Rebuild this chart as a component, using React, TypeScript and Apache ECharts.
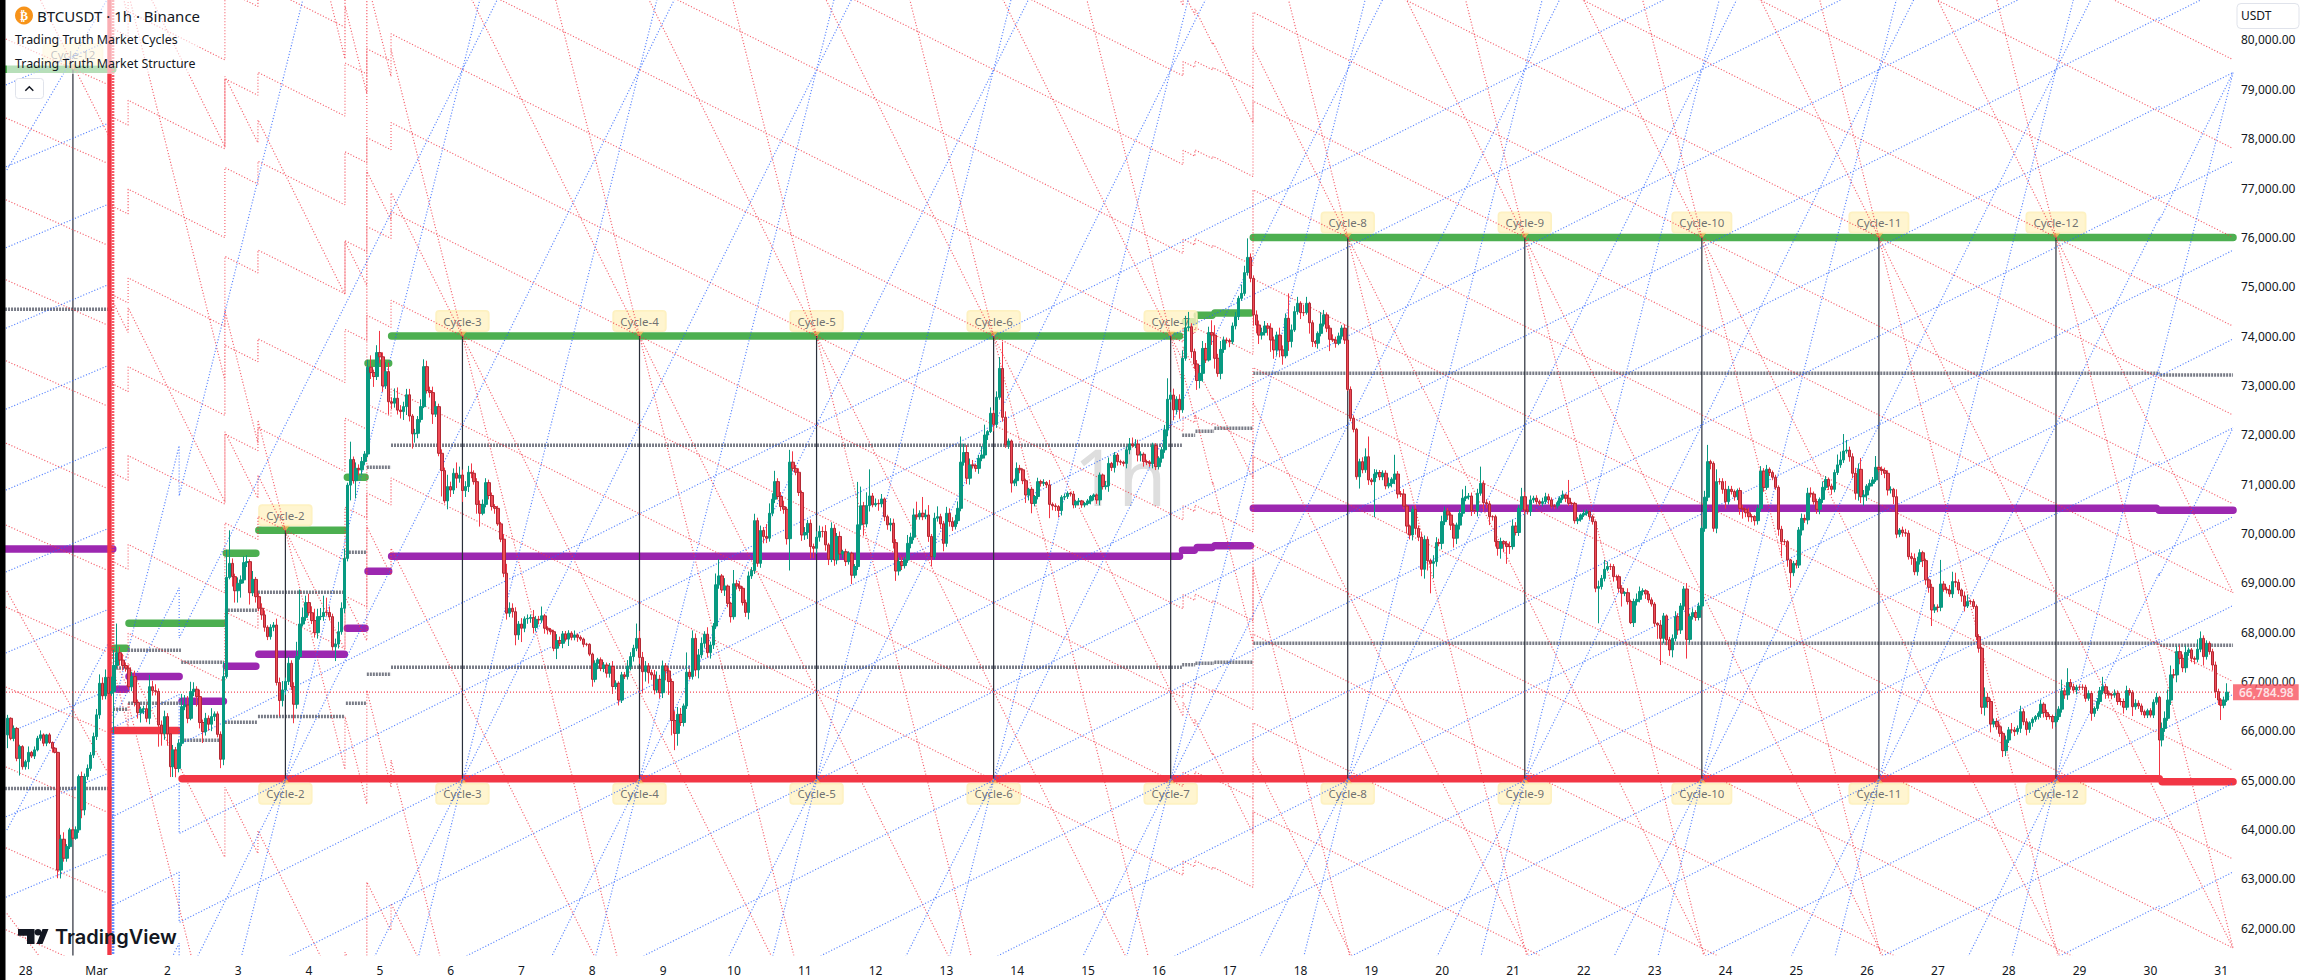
import React, { FC, useEffect, useRef } from "react";
import * as echarts from "echarts";

// hours counted from 28 Feb 00:00, first candle is hour -6
const firstHour = -6;
const firstOpen = 65920;
const closePrices = [
  66255,65850,66050,65445,65680,65275,
  65375,65565,65490,65615,65850,65920,65750,65920,65765,65650,
  65565,63180,63805,63420,63655,63995,63825,63995,65075,64400,
  65075,65240,65510,65885,66325,66965,66710,67085,66760,66800,
  67325,67585,67435,67325,67270,66895,67100,66575,66370,66440,
  66450,66255,66895,66815,66800,66120,65950,66290,65940,65275,
  65615,65240,65750,66490,66525,66255,66795,66845,66695,66170,
  65985,66255,66135,66290,66345,65930,65425,67100,69110,69395,
  69125,68840,68990,69060,69410,69430,68800,69070,68720,68485,
  68350,68100,67910,68100,68145,66980,66615,66830,67000,67370,
  66895,66540,67505,68165,68300,68600,68395,68235,67990,68315,
  68320,68400,68400,68315,67705,67760,68010,68485,69495,70980,
  71500,71070,71320,71290,71460,71610,73370,73260,73180,73665,
  73580,72990,73280,72670,72640,72740,72500,72470,72570,72810,
  72380,72020,72030,72310,72570,73380,72895,72855,72420,72570,
  71625,71275,70660,70950,70880,71220,71120,71185,70870,70950,
  71240,71220,71050,70590,70410,70590,71030,70770,70545,70510,
  70195,69885,69195,68385,68485,68415,67945,68165,68080,68270,
  68280,68300,68095,68260,68250,68330,68080,68045,68010,67675,
  67830,67775,67965,67860,67980,67895,67945,67895,67860,67755,
  67755,67555,67045,67370,67440,67270,67335,67170,67305,66900,
  66965,66625,67135,67100,67305,67505,67675,67875,67490,67200,
  67315,67180,67135,66830,67045,66775,67315,67215,67000,66210,
  65950,66335,66170,66505,67190,67100,67875,67235,67540,67775,
  67960,67585,67740,68125,68960,69140,68855,68935,68585,68315,
  68980,68935,68890,68600,68400,69140,69250,70260,69395,70060,
  69940,69905,70410,70695,71050,70750,70545,70490,69895,71445,
  71320,71240,70830,69970,70020,70205,69735,69700,69925,70040,
  70040,69770,69480,70105,69465,69940,69585,69630,69430,69600,
  69155,69330,70175,70560,70195,70565,70760,70580,70610,70600,
  70700,70340,70175,70210,69815,69240,69430,69350,69465,69800,
  69925,70375,70340,70410,70340,70375,69940,69530,70310,70340,
  70195,69800,70410,70240,70140,70260,70510,71445,71640,71120,
  71390,71375,71320,71525,71590,71995,72065,72435,72210,72760,
  73345,72355,71795,71875,71020,71070,71320,71290,71070,70780,
  70895,70610,70750,71050,71020,71030,70985,70590,70560,70545,
  70465,70735,70750,70815,70800,70580,70645,70660,70580,70610,
  70660,70750,70780,70680,71185,70950,70965,71420,71335,71590,
  71455,71445,71420,71695,71815,71780,71810,71590,71605,71455,
  71445,71420,71780,71355,71525,71695,72100,72720,72805,72505,
  72720,72505,73550,74170,74190,73685,73435,73100,73245,73750,
  73515,74070,74020,73550,73245,73730,73920,73910,73885,74205,
  74395,74765,74865,75285,75595,75170,74430,74225,74020,74070,
  74205,74160,73920,73720,74020,73720,73600,74360,73890,74125,
  74495,74665,74475,74475,74665,74270,73890,73855,74055,74245,
  74430,74160,73935,73920,73855,74000,74160,73920,72920,72335,
  72110,71150,71455,71290,71555,71085,71050,71205,71235,71150,
  71220,70965,71015,71100,71205,70800,70800,70555,70150,69970,
  70490,70105,69925,69275,69880,69450,69395,69430,69815,69800,
  70240,70455,70375,70170,69905,70170,70410,70715,70745,70760,
  70465,70465,70815,71015,70625,70600,70340,70340,69835,69700,
  69835,69790,69735,69735,70150,70020,70510,70745,70475,70445,
  70680,70715,70645,70610,70645,70745,70680,70555,70555,70625,
  70715,70780,70715,70610,70610,70260,70290,70375,70410,70445,
  70340,70240,68890,68925,69090,69275,69330,69330,69125,69125,
  68890,68790,68800,68620,68195,68620,68665,68825,68840,68775,
  68655,68570,68180,68145,67875,68330,67845,67640,67875,68315,
  68045,68530,68875,67855,68315,68395,68300,68530,70105,70735,
  71455,71420,70105,71050,71050,70895,70645,70895,70850,70745,
  70870,70510,70490,70420,70340,70340,70260,70510,71265,70935,
  71300,71235,71140,70935,70085,69835,69835,69465,69205,69395,
  69360,70070,70305,70275,70815,70800,70645,70490,70690,70935,
  71095,70960,70895,71235,71390,71490,71670,71690,71555,71220,
  70815,71300,70745,70780,70960,71015,71085,71340,71300,71275,
  71220,70880,70895,70745,69985,70070,70015,70005,69530,69495,
  69225,69430,69610,69450,69060,68910,68450,68505,68505,68975,
  68870,68855,68775,69025,69010,68855,68735,68530,68620,68620,
  68520,67910,67675,66480,66680,66595,66140,66190,66085,65950,
  65600,65815,66020,66020,65985,66050,66390,66185,66030,66165,
  66235,66290,66355,66540,66370,66290,66290,66185,66290,66440,
  66810,66730,66980,66895,66830,66885,66885,66885,66660,66760,
  66355,66455,66595,66810,66895,66760,66730,66730,66760,66595,
  66595,66480,66815,66775,66490,66560,66505,66390,66320,66410,
  66320,66580,66680,65815,66050,66255,66625,67135,67135,67605,
  67470,67280,67590,67640,67470,67450,67655,67875,67505,67775,
  67605,67335,66795,66625,66520,66625,66784.98,
];
// wick lengths in USDT above and below the body, same order as closePrices
const upperWicks = [
  70,20,60,30,40,30,
  40,120,30,70,50,90,30,20,40,20,
  20,10,90,140,50,40,60,70,40,100,
  60,80,60,80,120,180,120,160,250,300,
  320,590,120,130,60,60,100,120,60,50,
  60,80,240,120,130,60,90,120,70,80,
  100,60,80,260,200,180,200,140,60,140,
  60,110,60,170,50,50,60,300,560,670,
  100,60,120,90,130,130,50,170,50,70,
  100,90,40,60,60,130,100,180,80,130,
  60,90,300,700,200,140,180,130,240,160,
  170,340,300,120,60,110,200,120,200,50,
  360,60,120,80,90,60,150,240,60,150,
  440,90,190,180,90,200,220,100,100,120,
  120,40,90,70,150,150,120,80,120,110,
  60,80,60,240,100,100,220,170,110,110,
  130,180,60,70,80,100,90,60,60,50,
  50,40,100,190,120,100,90,60,120,50,
  80,60,150,70,70,190,40,40,40,40,
  130,80,60,60,60,40,90,30,40,30,
  30,20,30,60,40,50,60,50,70,110,
  60,40,60,60,130,90,70,300,150,110,
  100,60,60,100,160,90,110,60,60,60,
  190,150,130,50,400,60,160,100,120,120,
  60,140,70,60,230,340,40,160,30,30,
  280,80,100,40,60,90,70,140,60,100,
  70,250,200,120,220,70,90,120,50,250,
  220,70,80,40,110,70,80,60,120,120,
  100,130,40,120,80,70,100,40,60,40,
  30,50,870,390,80,270,540,60,100,80,
  100,30,40,100,90,70,80,90,60,170,
  90,130,270,60,330,110,200,50,110,210,
  60,60,130,100,90,120,140,520,180,150,
  130,100,40,70,180,210,30,120,60,120,
  230,540,120,50,30,40,120,70,30,40,
  30,50,30,80,40,70,30,100,40,50,
  30,40,60,40,30,60,30,60,20,30,
  40,30,30,30,50,30,100,120,30,60,
  40,40,30,70,120,130,100,90,60,40,
  40,40,60,50,40,60,100,425,60,130,
  60,100,160,240,300,70,60,80,170,150,
  110,120,250,200,90,170,70,50,40,70,
  90,50,180,140,385,80,60,90,90,100,
  100,60,100,70,70,150,90,100,505,110,
  110,130,40,160,130,30,50,30,40,240,
  100,50,60,100,70,70,60,80,0,60,
  60,30,60,90,170,410,40,100,60,50,
  60,60,120,40,390,60,60,100,30,30,
  60,90,60,100,80,60,40,130,110,80,
  120,90,60,50,40,50,70,180,220,60,
  70,30,90,340,60,70,60,30,40,20,
  80,30,60,100,130,80,60,180,100,80,
  90,50,60,40,80,80,60,50,40,40,
  40,90,30,370,30,30,40,30,70,40,
  30,40,20,120,70,190,100,60,50,40,
  40,60,30,90,40,60,120,100,50,30,
  60,50,40,20,100,60,30,60,80,110,
  70,60,60,120,60,90,50,70,50,130,
  340,40,40,250,70,70,170,70,70,40,
  40,60,70,40,100,50,30,70,100,60,
  90,40,40,50,40,70,50,30,20,50,
  70,60,100,80,110,120,50,60,40,120,
  70,40,50,60,210,170,345,205,70,70,
  110,120,230,100,40,80,60,230,30,60,
  60,60,60,30,150,40,70,80,60,80,
  100,100,70,40,40,30,70,60,60,490,
  60,50,100,200,180,60,30,90,140,40,
  50,40,50,30,200,90,60,60,70,50,
  30,90,60,140,60,60,120,60,70,30,
  40,30,40,90,40,60,50,40,80,60,
  230,60,290,70,60,50,40,60,50,60,
  50,40,70,80,200,60,60,40,80,60,
  70,60,100,50,50,80,60,50,40,40,
  50,60,90,30,120,140,210,190,120,120,
  130,80,140,50,40,40,200,140,60,60,
  40,60,70,60,40,70,180,
];
const lowerWicks = [
  270,40,60,60,350,60,
  60,150,40,60,30,50,60,60,30,90,
  20,165,170,70,70,50,40,30,60,170,
  110,70,50,60,70,80,80,70,70,50,
  850,60,110,100,70,60,90,80,120,200,
  100,80,120,100,80,440,250,130,240,210,
  210,180,80,60,70,100,40,90,200,120,
  230,80,130,140,90,60,180,120,40,40,
  200,240,240,290,70,90,240,70,120,60,
  100,90,70,60,80,60,320,120,100,70,
  70,385,90,60,50,70,60,70,100,120,
  70,90,70,80,80,290,90,60,100,60,
  310,60,360,110,90,70,60,130,210,70,
  130,120,60,260,120,90,90,140,170,170,
  110,300,180,100,60,30,60,100,200,60,
  60,525,50,170,140,80,200,90,230,130,
  110,100,60,190,270,40,60,80,80,110,
  40,60,80,130,80,120,210,100,280,80,
  100,90,120,80,90,60,110,90,60,60,
  220,60,100,50,140,60,60,90,40,60,
  40,40,150,60,120,60,80,90,90,150,
  60,110,60,50,60,80,100,60,130,440,
  200,220,100,90,60,120,110,190,270,300,
  340,250,70,80,60,60,60,130,170,70,
  90,100,120,80,60,80,60,120,80,120,
  60,70,60,60,90,140,60,70,70,90,
  140,100,70,60,80,60,90,90,120,645,
  60,60,70,120,100,130,240,200,110,90,
  120,120,120,60,120,90,110,90,90,60,
  180,60,70,100,240,70,120,50,40,140,
  70,90,100,130,120,200,90,90,60,60,
  100,60,60,60,70,50,110,200,60,70,
  100,160,70,100,90,60,70,60,70,120,
  130,60,70,110,60,70,100,30,140,70,
  50,90,60,80,190,60,110,70,70,160,
  110,200,60,60,70,60,60,280,90,90,
  140,100,60,50,50,70,60,70,60,50,
  40,70,80,80,110,60,60,120,70,100,
  80,60,60,100,90,40,50,130,130,100,
  60,70,100,70,60,90,60,130,60,210,
  90,180,60,50,70,130,100,190,160,170,
  60,30,200,210,70,120,70,60,110,50,
  70,70,50,50,60,80,220,170,180,90,
  60,150,240,180,120,150,180,50,190,120,
  40,60,130,70,40,220,110,80,110,60,
  50,80,240,40,90,40,60,80,30,60,
  60,60,240,70,60,100,70,720,80,70,
  70,70,50,80,100,90,60,60,150,90,
  110,130,80,140,190,200,607,300,100,60,
  120,70,100,100,190,120,90,70,60,60,
  110,70,120,50,180,90,170,80,100,150,
  210,170,350,150,60,60,70,50,90,60,
  90,60,60,50,60,50,90,50,60,50,
  60,40,80,50,40,60,70,50,40,50,
  60,60,80,710,60,60,40,70,100,80,
  90,270,60,60,30,90,80,60,80,100,
  60,50,70,280,540,100,110,120,150,60,
  100,80,80,390,70,60,70,60,80,70,
  80,120,70,100,60,90,140,60,60,80,
  70,130,190,90,100,110,100,80,70,90,
  50,70,60,50,130,300,70,140,305,70,
  70,60,110,60,90,70,60,90,100,70,
  60,80,110,60,50,60,60,50,100,100,
  130,150,130,180,120,90,60,40,50,90,
  100,110,70,150,80,60,80,70,60,130,
  70,80,60,130,100,110,325,60,100,80,
  50,70,60,80,100,80,120,110,40,60,
  50,70,90,140,170,130,170,70,60,70,
  130,110,60,70,90,60,90,70,120,70,
  80,50,60,90,100,70,60,140,100,70,
  70,80,100,60,70,90,60,60,70,50,
  150,70,50,60,70,110,60,90,60,70,
  80,130,60,60,190,60,60,70,60,60,
  50,60,50,745,130,70,50,100,70,150,
  120,90,100,70,80,100,60,60,180,60,
  60,110,130,100,300,60,40,
];

const dayLabels = ["28","Mar","2","3","4","5","6","7","8","9","10","11","12","13","14","15","16","17","18","19","20","21","22","23","24","25","26","27","28","29","30","31"];
const priceTicks = [62000,63000,64000,65000,66000,67000,68000,69000,70000,71000,72000,73000,74000,75000,76000,77000,78000,79000,80000];
const lastPrice = 66784.98;

const hourMin = -6.676;
const hourMax = 747.65;
const priceMin = 61459;
const priceMax = 80810;

// structure levels: [from hour, to hour, price]
const greenLevels = [[-7,29.5,79406],[30,34,67675],[35,67,68180],[68,78,69600],[79,108,70065],[109,115,71140],[116,123,73450],[124,391,74000],[393,396,74290],[397,402,74420],[403,415,74470],[416,748,76000]];
const purpleLevels = [[-7,29.5,69685],[31,34,66845],[35,52,67100],[53,67,66600],[68,78,67310],[79,108,67555],[109,115,68080],[116,123,69235],[124,391,69540],[392,396,69660],[397,402,69715],[403,415,69750],[416,722,70510],[723,748,70470]];
const redLevels = [[30,52,66010],[53,723,65030],[724,748,64970]];
const grayLevels = [
  [-7,29.5,74545],[-7,29.5,64835],[29.6,34.6,67275],[29.6,34.6,66440],[34.7,52.6,67635],[34.7,52.6,66560],
  [52.7,67.2,67390],[52.7,67.2,65810],[67.5,78.6,68445],[67.5,78.6,66175],[78.7,108.2,68810],[78.7,108.2,66290],
  [108.5,115.5,69620],[108.5,115.5,66560],[115.6,123.8,71340],[115.6,123.8,67150],[123.8,391.8,71790],[123.8,391.8,67290],
  [391.9,396.3,71990],[391.9,396.3,67340],[396.4,402.7,72070],[396.4,402.7,67370],[402.8,415.9,72130],[402.8,415.9,67390],
  [416,723.2,73245],[416,723.2,67775],[723.3,748,73210],[723.3,748,67735],
];

// cycle markers: [hour, top price, bottom price, label]
const cycleMarks: [number, number, number, string][] = [
  [88,70065,65030,"Cycle-2"],[148,74000,65030,"Cycle-3"],[208,74000,65030,"Cycle-4"],[268,74000,65030,"Cycle-5"],
  [328,74000,65030,"Cycle-6"],[388,74000,65030,"Cycle-7"],[448,76000,65030,"Cycle-8"],[508,76000,65030,"Cycle-9"],
  [568,76000,65030,"Cycle-10"],[628,76000,65030,"Cycle-11"],[688,76000,65030,"Cycle-12"],
];
const earlyCycle: [number, number, string] = [16,79406,"Cycle-12"];

const fanHours = [28,88,148,208,268,328,388,448,508,568,628,688];
const topRegimes = [[29.2,34.7,67675],[34.7,67.5,68180],[67.5,78.7,69600],[78.7,108.2,70065],[108.2,115.6,71140],[115.6,123.8,73450],[123.8,392.2,74000],[392.2,396.2,74290],[396.2,402.3,74420],[402.3,415.9,74470],[415.9,748,76000]];
const lowRegimes = [[29.2,52,66018],[52,723,65000],[723,748,64940]];
const shallowRate = 30;
const steepRates = [120,240];
const latticeStep = 1800;
const redLatticeRows = [0,1,2,3,4,5,6,7,8,9,10,11,12,13,14,15];
const blueLatticeRows = [-14,-13,-12,-11,-10,-9,-8,-7,-6,-5,-4,-3,-2,-1,0];
// before the 1 March reset the fan sits elsewhere: prices at hour -6.7, falling/rising to hour 27.5
const earlyRedShallow = [80020,78420,76760,75140,73500,71830,70170,68510,66890,65270,63630,61970];
const earlyBlueShallow = [79090,77430,75790,74160,72520,70880,69220,67580,65940,64260,62630];
const earlyRedSteep = [[-6.4,68835,27.5,65187],[5,80810,28,78076],[-6.4,62300,4.3,61459]];
const earlyBlueSteep = [[-6.4,77366,27.5,80810],[-6.4,63992,28.6,67842]];

const TEAL = "#089981";
const RED = "#F23645";
const FONT = "Noto Sans";

echarts.graphic.registerShape(
  "tvLogo",
  echarts.graphic.extendPath(
    "M0 0H16.5V15H9V6.7H0ZM23.3 3.3a3.3 3.3 0 1 1-6.6 0a3.3 3.3 0 1 1 6.6 0ZM24.5 0H30.5L24.5 15H18.5Z",
    {}
  )
);

const levelPath = (levels: number[][]) => {
  const out: any[] = [];
  levels.forEach(([a, b, p]) => {
    out.push([a, p], [b, p], [b, null]);
  });
  return out;
};

const regimePath = (regimes: number[][], at: (h: number, anchor: number) => number) => {
  const out: any[] = [];
  regimes.forEach(([a, b, anchor]) => {
    out.push([a, at(a, anchor)], [b, at(b, anchor)]);
  });
  out.push([regimes[regimes.length - 1][1], null]);
  return out;
};

const buildRedFan = () => {
  let out: any[] = [];
  redLatticeRows.forEach((k) => {
    out = out.concat(regimePath(topRegimes, (h, t) => t - shallowRate * (h - 28) + latticeStep * k));
  });
  fanHours.forEach((f) => {
    steepRates.forEach((r) => {
      out = out.concat(regimePath(topRegimes, (h, t) => t - r * (h - f)));
    });
  });
  earlyRedShallow.forEach((p) => {
    out.push([-6.7, p], [27.5, p - 912], [27.5, null]);
  });
  earlyRedSteep.forEach(([a, p, b, q]) => out.push([a, p], [b, q], [b, null]));
  return out;
};

const buildBlueFan = () => {
  let out: any[] = [];
  blueLatticeRows.forEach((k) => {
    out = out.concat(regimePath(lowRegimes, (h, b) => b + shallowRate * (h - 28) + latticeStep * k));
  });
  fanHours.forEach((f) => {
    steepRates.forEach((r) => {
      out = out.concat(regimePath(lowRegimes, (h, b) => b + r * (h - f)));
    });
  });
  earlyBlueShallow.forEach((p) => {
    out.push([-6.7, p], [27.5, p + 871], [27.5, null]);
  });
  earlyBlueSteep.forEach(([a, p, b, q]) => out.push([a, p], [b, q], [b, null]));
  return out;
};

const lineSeries = (data: any[], color: string, width: number, type: any, z: number, extra: any = {}) => ({
  type: "line",
  data,
  z,
  silent: true,
  showSymbol: false,
  symbol: "none",
  connectNulls: false,
  lineStyle: { color, width, type, ...extra },
});

const cycleLabelBase = {
  show: true,
  fontFamily: FONT,
  fontSize: 11.5,
  color: "#4a4d57",
  backgroundColor: "#FFF3C4",
  borderColor: "#FCEDB2",
  borderWidth: 1,
  borderRadius: 3,
  padding: [4, 7],
  formatter: (p: any) => p.data[2],
};

const App: FC = () => {
  const ref = useRef<any>();
  useEffect(() => {
    document.body.style.margin = "0";
    const chart: any = echarts.init(ref.current, null, { renderer: "svg" });

    const opens = closePrices.map((_, i) => (i === 0 ? firstOpen : closePrices[i - 1]));
    const wickData = closePrices.map((c, i) => [
      firstHour + i,
      opens[i],
      c,
      Math.min(opens[i], c) - lowerWicks[i],
      Math.max(opens[i], c) + upperWicks[i],
    ]);
    const bodyData = closePrices.map((c, i) => [
      firstHour + i,
      opens[i],
      c,
      Math.min(opens[i], c),
      Math.max(opens[i], c),
    ]);

    const verticals: any[] = [];
    cycleMarks.forEach(([h, top, bottom]) => verticals.push([h, top], [h, bottom], [h, null]));
    verticals.push([earlyCycle[0], earlyCycle[1]], [earlyCycle[0], 61000], [earlyCycle[0], null]);

    const topMarks = cycleMarks.map(([h, top, , name]) => [h, top, name]);
    topMarks.unshift([earlyCycle[0], earlyCycle[1], earlyCycle[2]]);
    const bottomMarks = cycleMarks.map(([h, , bottom, name]) => [h, bottom, name]);

    chart.setOption({
      animation: false,
      backgroundColor: "#ffffff",
      textStyle: { fontFamily: FONT },
      grid: { left: 6, width: 2226, top: 0, height: 955, containLabel: false },
      xAxis: {
        type: "value",
        min: hourMin,
        max: hourMax,
        splitLine: { show: false },
        axisLine: { show: false },
        axisTick: { show: false },
        axisLabel: {
          customValues: dayLabels.map((_, i) => i * 24),
          formatter: (v: number) => dayLabels[Math.round(v / 24)],
          fontFamily: FONT,
          fontSize: 12,
          color: "#131722",
          margin: 9,
          hideOverlap: false,
        },
      },
      yAxis: {
        type: "value",
        position: "right",
        min: priceMin,
        max: priceMax,
        splitLine: { show: false },
        axisLine: { show: false },
        axisTick: { show: false },
        axisLabel: {
          customValues: priceTicks,
          formatter: (v: number) => v.toLocaleString("en-US", { minimumFractionDigits: 2, maximumFractionDigits: 2 }),
          fontFamily: FONT,
          fontSize: 12,
          color: "#131722",
          margin: 9,
          align: "left",
        },
      },
      series: [
        lineSeries(levelPath(greenLevels), "#4CAF50", 7.5, "solid", 2, { cap: "round" }),
        lineSeries(levelPath(purpleLevels), "#9C27B0", 7.5, "solid", 2, { cap: "round" }),
        lineSeries(levelPath(redLevels), RED, 7.5, "solid", 2, { cap: "round" }),
        lineSeries(levelPath(grayLevels), "#787B86", 3.5, [2, 1], 2),
        {
          type: "scatter",
          z: 3,
          silent: true,
          data: topMarks,
          symbol: "triangle",
          symbolSize: [9, 6],
          symbolRotate: 180,
          symbolOffset: [0, -2],
          itemStyle: { color: "#F5B75C" },
          label: { ...cycleLabelBase, position: "top", distance: 0 },
        },
        {
          type: "scatter",
          z: 3,
          silent: true,
          data: bottomMarks,
          symbol: "triangle",
          symbolSize: [9, 6],
          symbolOffset: [0, 2],
          itemStyle: { color: "#F5B75C" },
          label: { ...cycleLabelBase, position: "bottom", distance: 0 },
        },
        lineSeries(verticals, "#2A2E39", 1.2, "solid", 4),
        lineSeries(buildRedFan(), "rgba(242,54,69,0.8)", 1.15, [1.1, 1.9], 4),
        lineSeries(buildBlueFan(), "rgba(41,98,255,0.8)", 1.15, [1.1, 1.9], 4),
        lineSeries([[28.4, priceMax], [28.4, priceMin]], RED, 4.4, "solid", 4),
        lineSeries([[29.6, priceMax], [29.6, 67440]], "rgba(242,54,69,0.8)", 2.6, [2, 1], 4),
        lineSeries([[29.6, 66020], [29.6, priceMin]], "rgba(41,98,255,0.7)", 2.6, [2, 1], 4),
        lineSeries([[hourMin, lastPrice], [hourMax, lastPrice]], "rgba(242,54,69,0.9)", 1.1, [1, 2], 5),
        {
          type: "candlestick",
          z: 6,
          silent: true,
          large: false,
          barWidth: 1,
          encode: { x: 0, y: [1, 2, 3, 4] },
          data: wickData,
          itemStyle: { color: TEAL, color0: RED, borderColor: TEAL, borderColor0: RED, borderColorDoji: RED, borderWidth: 1 },
        },
        {
          type: "candlestick",
          z: 7,
          silent: true,
          large: false,
          barWidth: 3,
          encode: { x: 0, y: [1, 2, 3, 4] },
          data: bodyData,
          itemStyle: { color: TEAL, color0: "#EE4A56", borderColor: TEAL, borderColor0: "#B22833", borderColorDoji: "#B22833", borderWidth: 1 },
        },
        {
          type: "scatter",
          z: 9,
          silent: true,
          symbolSize: 0,
          clip: false,
          data: [[hourMax, lastPrice]],
          label: {
            show: true,
            position: "right",
            distance: 1,
            formatter: "66,784.98",
            fontFamily: FONT,
            fontSize: 12,
            fontWeight: 600,
            color: "#ffffff",
            backgroundColor: "#F7525F",
            padding: [2, 5, 2, 6],
          },
        },
      ],
      graphic: [
        { type: "text", z: 0, silent: true, style: { x: 1120, y: 476, text: "1h", fill: "#dedede", font: `78px "${FONT}"`, textAlign: "center", textVerticalAlign: "middle" } },
        { type: "rect", z: 20, silent: true, shape: { x: 7, y: 0, width: 192, height: 74 }, style: { fill: "rgba(255,255,255,0.6)" } },
        { type: "rect", z: 30, silent: true, shape: { x: 0, y: 0, width: 5.5, height: 980 }, style: { fill: "#000000" } },
        { type: "circle", z: 31, silent: true, shape: { cx: 24, cy: 15.5, r: 9 }, style: { fill: "#F7931A" } },
        { type: "text", z: 32, silent: true, style: { x: 24, y: 15.5, text: "₿", fill: "#ffffff", font: `bold 12px "DejaVu Sans"`, textAlign: "center", textVerticalAlign: "middle" } },
        { type: "text", z: 32, silent: true, style: { x: 37, y: 16, text: "BTCUSDT · 1h · Binance", fill: "#131722", font: `15px "${FONT}"`, textVerticalAlign: "middle" } },
        { type: "text", z: 32, silent: true, style: { x: 15, y: 39.5, text: "Trading Truth Market Cycles", fill: "#131722", font: `12.4px "${FONT}"`, textVerticalAlign: "middle" } },
        { type: "text", z: 32, silent: true, style: { x: 15, y: 63.5, text: "Trading Truth Market Structure", fill: "#131722", font: `12.4px "${FONT}"`, textVerticalAlign: "middle" } },
        { type: "rect", z: 32, silent: true, shape: { x: 15.5, y: 78.5, width: 28, height: 20, r: 3 }, style: { fill: "#ffffff", stroke: "#E0E3EB", lineWidth: 1 } },
        { type: "polyline", z: 33, silent: true, shape: { points: [[25.3, 90.7], [29.3, 86.7], [33.3, 90.7]] }, style: { fill: "none", stroke: "#131722", lineWidth: 1.5 } },
        { type: "tvLogo", z: 32, silent: true, x: 18, y: 929, scaleX: 1, scaleY: 1, style: { fill: "#131722" } },
        { type: "text", z: 32, silent: true, style: { x: 55, y: 936.5, text: "TradingView", fill: "#131722", font: `600 20px "Inter"`, textVerticalAlign: "middle" } },
        { type: "rect", z: 32, silent: true, shape: { x: 2237, y: 3.5, width: 62, height: 25, r: 4 }, style: { fill: "#ffffff", stroke: "#E0E3EB", lineWidth: 1 } },
        { type: "text", z: 33, silent: true, style: { x: 2241, y: 15.5, text: "USDT", fill: "#131722", font: `12px "${FONT}"`, textVerticalAlign: "middle" } },
      ],
    });
    return () => {
      chart.dispose && chart.dispose();
    };
  }, []);

  return <div ref={ref} style={{ position: "absolute", left: 0, top: 0, width: 2307, height: 980 }}></div>;
};

export default App;
